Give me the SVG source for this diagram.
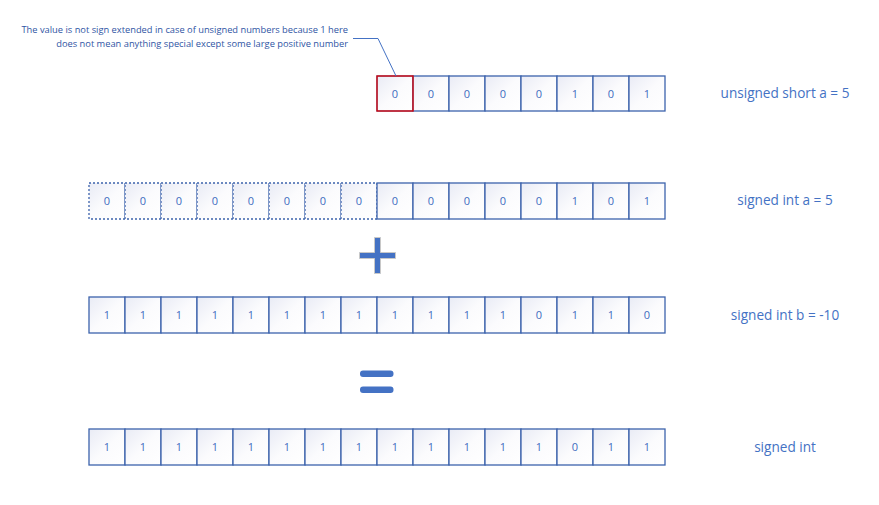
<svg xmlns="http://www.w3.org/2000/svg" width="879" height="505" viewBox="0 0 879 505">
<defs>
<linearGradient id="cg" x1="0" y1="0" x2="1" y2="1">
<stop offset="0" stop-color="#e9ebf5"/>
<stop offset="0.5" stop-color="#fbfbfd"/>
<stop offset="1" stop-color="#ffffff"/>
</linearGradient>
<style>
.c{fill:url(#cg);stroke:#3c63ac;stroke-width:1.3}
.d{fill:url(#cg);stroke:#3c63ac;stroke-width:1.3;stroke-dasharray:2 2}
.r{fill:none;stroke:#e00000;stroke-width:1.3}
.t{font-family:"Open Sans","Liberation Sans",sans-serif;font-size:11px;fill:#3f6cbf;text-anchor:middle}
.l{font-family:"Open Sans","Liberation Sans",sans-serif;font-size:13.6px;fill:#4472c4;text-anchor:middle}
.n{font-family:"Open Sans","Liberation Sans",sans-serif;font-size:9.3px;fill:#2f55a4;text-anchor:end}
.op{fill:#4472c4;stroke:#c8c8c8;stroke-width:1}
</style>
</defs>
<rect width="879" height="505" fill="#ffffff"/>

<g id="row-unsigned-short">
<rect class="c" x="377" y="76" width="36" height="35"/><text class="t" x="395" y="97.5">0</text>
<rect class="c" x="413" y="76" width="36" height="35"/><text class="t" x="431" y="97.5">0</text>
<rect class="c" x="449" y="76" width="36" height="35"/><text class="t" x="467" y="97.5">0</text>
<rect class="c" x="485" y="76" width="36" height="35"/><text class="t" x="503" y="97.5">0</text>
<rect class="c" x="521" y="76" width="36" height="35"/><text class="t" x="539" y="97.5">0</text>
<rect class="c" x="557" y="76" width="36" height="35"/><text class="t" x="575" y="97.5">1</text>
<rect class="c" x="593" y="76" width="36" height="35"/><text class="t" x="611" y="97.5">0</text>
<rect class="c" x="629" y="76" width="36" height="35"/><text class="t" x="647" y="97.5">1</text>
<rect class="r" x="377" y="76" width="36" height="35"/>
</g>

<g id="row-signed-a">
<rect class="d" x="89" y="183" width="36" height="36"/><text class="t" x="107" y="205">0</text>
<rect class="d" x="125" y="183" width="36" height="36"/><text class="t" x="143" y="205">0</text>
<rect class="d" x="161" y="183" width="36" height="36"/><text class="t" x="179" y="205">0</text>
<rect class="d" x="197" y="183" width="36" height="36"/><text class="t" x="215" y="205">0</text>
<rect class="d" x="233" y="183" width="36" height="36"/><text class="t" x="251" y="205">0</text>
<rect class="d" x="269" y="183" width="36" height="36"/><text class="t" x="287" y="205">0</text>
<rect class="d" x="305" y="183" width="36" height="36"/><text class="t" x="323" y="205">0</text>
<rect class="d" x="341" y="183" width="36" height="36"/><text class="t" x="359" y="205">0</text>
<rect class="c" x="377" y="183" width="36" height="36"/><text class="t" x="395" y="205">0</text>
<rect class="c" x="413" y="183" width="36" height="36"/><text class="t" x="431" y="205">0</text>
<rect class="c" x="449" y="183" width="36" height="36"/><text class="t" x="467" y="205">0</text>
<rect class="c" x="485" y="183" width="36" height="36"/><text class="t" x="503" y="205">0</text>
<rect class="c" x="521" y="183" width="36" height="36"/><text class="t" x="539" y="205">0</text>
<rect class="c" x="557" y="183" width="36" height="36"/><text class="t" x="575" y="205">1</text>
<rect class="c" x="593" y="183" width="36" height="36"/><text class="t" x="611" y="205">0</text>
<rect class="c" x="629" y="183" width="36" height="36"/><text class="t" x="647" y="205">1</text>
</g>

<g id="row-signed-b">
<rect class="c" x="89" y="297" width="36" height="36"/><text class="t" x="107" y="319">1</text>
<rect class="c" x="125" y="297" width="36" height="36"/><text class="t" x="143" y="319">1</text>
<rect class="c" x="161" y="297" width="36" height="36"/><text class="t" x="179" y="319">1</text>
<rect class="c" x="197" y="297" width="36" height="36"/><text class="t" x="215" y="319">1</text>
<rect class="c" x="233" y="297" width="36" height="36"/><text class="t" x="251" y="319">1</text>
<rect class="c" x="269" y="297" width="36" height="36"/><text class="t" x="287" y="319">1</text>
<rect class="c" x="305" y="297" width="36" height="36"/><text class="t" x="323" y="319">1</text>
<rect class="c" x="341" y="297" width="36" height="36"/><text class="t" x="359" y="319">1</text>
<rect class="c" x="377" y="297" width="36" height="36"/><text class="t" x="395" y="319">1</text>
<rect class="c" x="413" y="297" width="36" height="36"/><text class="t" x="431" y="319">1</text>
<rect class="c" x="449" y="297" width="36" height="36"/><text class="t" x="467" y="319">1</text>
<rect class="c" x="485" y="297" width="36" height="36"/><text class="t" x="503" y="319">1</text>
<rect class="c" x="521" y="297" width="36" height="36"/><text class="t" x="539" y="319">0</text>
<rect class="c" x="557" y="297" width="36" height="36"/><text class="t" x="575" y="319">1</text>
<rect class="c" x="593" y="297" width="36" height="36"/><text class="t" x="611" y="319">1</text>
<rect class="c" x="629" y="297" width="36" height="36"/><text class="t" x="647" y="319">0</text>
</g>

<g id="row-result">
<rect class="c" x="89" y="429" width="36" height="36"/><text class="t" x="107" y="451">1</text>
<rect class="c" x="125" y="429" width="36" height="36"/><text class="t" x="143" y="451">1</text>
<rect class="c" x="161" y="429" width="36" height="36"/><text class="t" x="179" y="451">1</text>
<rect class="c" x="197" y="429" width="36" height="36"/><text class="t" x="215" y="451">1</text>
<rect class="c" x="233" y="429" width="36" height="36"/><text class="t" x="251" y="451">1</text>
<rect class="c" x="269" y="429" width="36" height="36"/><text class="t" x="287" y="451">1</text>
<rect class="c" x="305" y="429" width="36" height="36"/><text class="t" x="323" y="451">1</text>
<rect class="c" x="341" y="429" width="36" height="36"/><text class="t" x="359" y="451">1</text>
<rect class="c" x="377" y="429" width="36" height="36"/><text class="t" x="395" y="451">1</text>
<rect class="c" x="413" y="429" width="36" height="36"/><text class="t" x="431" y="451">1</text>
<rect class="c" x="449" y="429" width="36" height="36"/><text class="t" x="467" y="451">1</text>
<rect class="c" x="485" y="429" width="36" height="36"/><text class="t" x="503" y="451">1</text>
<rect class="c" x="521" y="429" width="36" height="36"/><text class="t" x="539" y="451">1</text>
<rect class="c" x="557" y="429" width="36" height="36"/><text class="t" x="575" y="451">0</text>
<rect class="c" x="593" y="429" width="36" height="36"/><text class="t" x="611" y="451">1</text>
<rect class="c" x="629" y="429" width="36" height="36"/><text class="t" x="647" y="451">1</text>
</g>

<g id="labels">
<text class="l" x="785" y="98">unsigned short a = 5</text>
<text class="l" x="785" y="205">signed int a = 5</text>
<text class="l" x="785" y="320">signed int b = -10</text>
<text class="l" x="785" y="452">signed int</text>
</g>

<g id="operators">
<path class="op" d="M359.5 252.5 H374.5 V237.5 H380.5 V252.5 H395.5 V258.5 H380.5 V273.5 H374.5 V258.5 H359.5 Z"/>
<rect x="360" y="370.5" width="33.5" height="6.5" rx="3" fill="#4472c4"/>
<rect x="360" y="386.5" width="33.5" height="6.5" rx="3" fill="#4472c4"/>
</g>

<g id="callout">
<text class="n" x="348" y="33">The value is not sign extended in case of unsigned numbers because 1 here</text>
<text class="n" x="348" y="47">does not mean anything special except some large positive number</text>
</g>

<g id="connectors">
<polyline points="353,38.5 378,38.5 396,76" fill="none" stroke="#4472c4" stroke-width="1"/>
</g>
</svg>
